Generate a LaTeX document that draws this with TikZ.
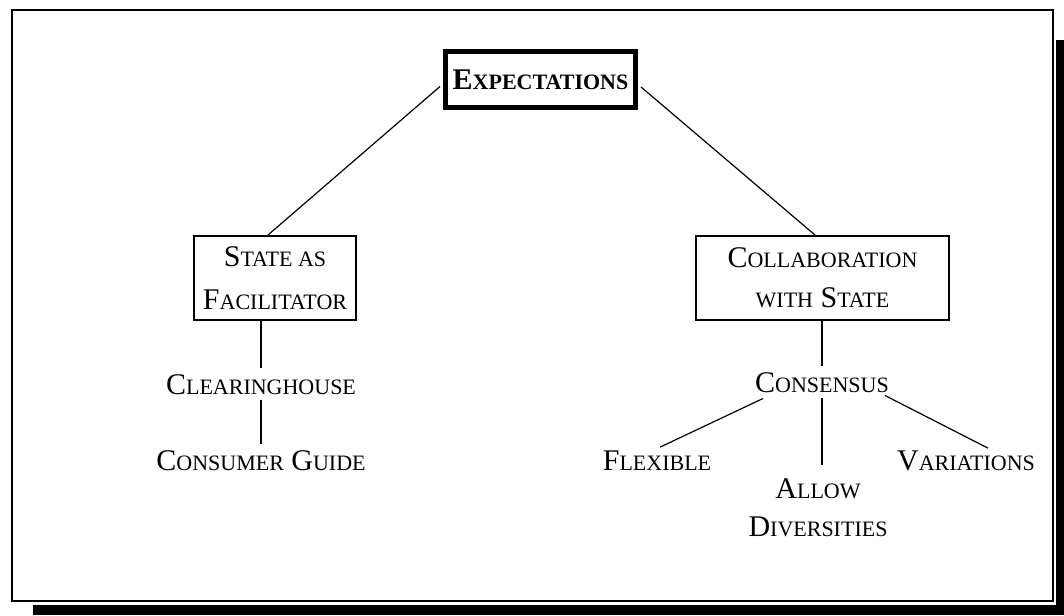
\documentclass[tikz,border=0pt]{standalone}
\usepackage{fontspec}
\setmainfont{Liberation Serif}
\usetikzlibrary{calc}
% small capitals built from a smaller size of the capitals
\newcommand\lc[1]{{\fontsize{22}{\baselineskip}\selectfont #1}}
\begin{document}
\begin{tikzpicture}[x=1pt,y=-1pt,
  every node/.style={font=\fontsize{30}{40}\selectfont},
  topbox/.style={draw, line width=5pt, minimum width=190pt, minimum height=56pt,
    inner sep=2pt, font=\bfseries\fontsize{30}{40}\selectfont},
  midbox/.style={draw, line width=2pt, minimum height=84pt, align=center, inner sep=2pt},
  term/.style={anchor=base, inner sep=6pt},
  conn/.style={line width=1.2pt}]
  \useasboundingbox (0,0) rectangle (1064,615);
  \fill[white] (0,0) rectangle (1064,615);

  % frame with drop shadow
  \draw[line width=2pt] (12,10) rectangle (1053,601);
  \fill[black] (1056,40) rectangle (1064,615);
  \fill[black] (33,605) rectangle (1064,615);

  % boxes
  \node[topbox] (E) at (540.5,79.5) {E\lc{XPECTATIONS}};
  \node[midbox, minimum width=162pt, font=\fontsize{30}{43}\selectfont] (SF) at (275,278)
    {S\lc{TATE AS}\\F\lc{ACILITATOR}};
  \node[midbox, minimum width=253pt, font=\fontsize{30}{40}\selectfont] (CO) at (822.5,278)
    {C\lc{OLLABORATION}\\\lc{WITH} S\lc{TATE}};

  % plain terms
  \node[term] (CH) at (261,394) {C\lc{LEARINGHOUSE}};
  \node[term] (CG) at (261,470) {C\lc{ONSUMER} G\lc{UIDE}};
  \node[term] (CS) at (822,392) {C\lc{ONSENSUS}};
  \node[term] (FL) at (657,470) {F\lc{LEXIBLE}};
  \node[term] (VA) at (966,470) {V\lc{ARIATIONS}};
  \node[inner sep=6pt, anchor=north, align=center, font=\fontsize{30}{38}\selectfont] (AD) at (818,472)
    {A\lc{LLOW}\\D\lc{IVERSITIES}};

  % connectors
  \draw[conn] ($(E.west)+(-3,7)$) -- ($(SF.north)+(-7,0)$);
  \draw[conn] ($(E.east)+(3,7.5)$) -- ($(CO.north)+(-7.5,0)$);
  \draw[conn] (SF.south -| CH.north) -- (CH.north);
  \draw[conn] (CH.south) -- (CG.north);
  \draw[conn] (CO.south -| CS.north) -- (CS.north);
  \draw[conn] ($(CS.south)+(-59,0)$) -- ($(FL.north)+(3,3)$);
  \draw[conn] (CS.south) -- ($(CS.south |- AD.north)+(0,-7)$);
  \draw[conn] ($(CS.south)+(63,-3)$) -- ($(VA.north)+(22,4)$);
\end{tikzpicture}
\end{document}
